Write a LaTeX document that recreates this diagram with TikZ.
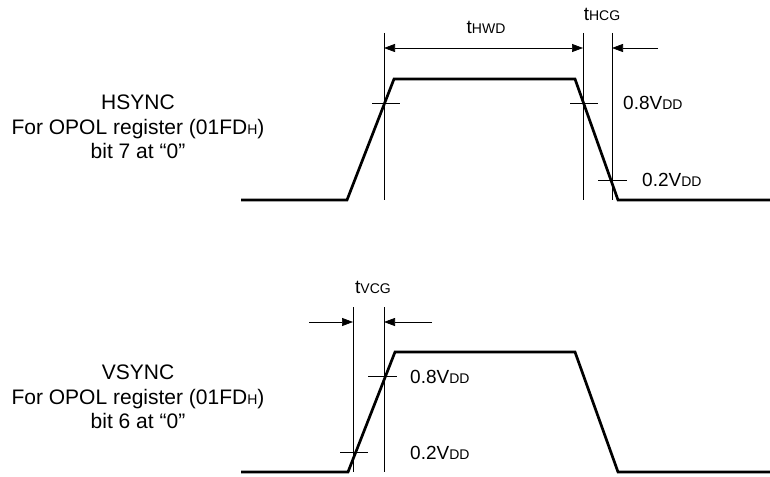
\documentclass[tikz,border=0pt]{standalone}
\usepackage{fontspec}
\setmainfont{Liberation Sans}
\usetikzlibrary{arrows.meta}

\newcommand{\subtxt}[1]{{\fontsize{14}{14}\selectfont #1}}

\tikzset{
    wave/.style={line width=2.7pt, line join=miter},
    guide/.style={line width=0.7pt},
    dim/.style={line width=0.7pt, >={Triangle[length=11pt,width=8pt]}},
    lbl/.style={font=\fontsize{19}{20}\selectfont, inner sep=0pt},
    sig/.style={font=\fontsize{21}{24.5}\selectfont, align=center, inner sep=0pt}
}

\begin{document}
\begin{tikzpicture}[x=1pt,y=-1pt]

            %\draw [help lines] (0,0) grid (770,476);
            \useasboundingbox (0,0) rectangle (770,476);

            % HSYNC
            \path   (241,200) coordinate (ha)
                    (347,200) coordinate (hb)
                    (394,79)  coordinate (hc)
                    (575,79)  coordinate (hd)
                    (618,200) coordinate (he)
                    (770,200) coordinate (hf)
                    (384,33)  coordinate (hg1)
                    (384,200) coordinate (hg1b)
                    (583,33)  coordinate (hg2)
                    (583,200) coordinate (hg2b)
                    (612,33)  coordinate (hg3)
                    (612,200) coordinate (hg3b)
                    (384,48)  coordinate (hwdl)
                    (583,48)  coordinate (hwdr)
                    (612,48)  coordinate (hcgl)
                    (658,48)  coordinate (hcgr)
                    (372,103) coordinate (hk1l)
                    (400,103) coordinate (hk1r)
                    (570,103) coordinate (hk2l)
                    (598,103) coordinate (hk2r)
                    (598,180) coordinate (hk3l)
                    (627,180) coordinate (hk3r);

            \path   (138,127) node (hname) [sig] {HSYNC\\For OPOL register (01FD\subtxt{H})\\bit 7 at “0”}
                    (486,27)  node (thwd) [lbl] {t\subtxt{HWD}}
                    (602,14)  node (thcg) [lbl] {t\subtxt{HCG}}
                    (623,103) node (h08) [lbl,anchor=west] {0.8V\subtxt{DD}}
                    (642,180) node (h02) [lbl,anchor=west] {0.2V\subtxt{DD}};

            \draw[wave] (ha) -- (hb) -- (hc) -- (hd) -- (he) -- (hf);
            \draw[guide] (hg1) -- (hg1b);
            \draw[guide] (hg2) -- (hg2b);
            \draw[guide] (hg3) -- (hg3b);
            \draw[dim,<->] (hwdl) -- (hwdr);
            \draw[dim,->] (hcgr) -- (hcgl);
            \draw[guide] (hk1l) -- (hk1r);
            \draw[guide] (hk2l) -- (hk2r);
            \draw[guide] (hk3l) -- (hk3r);

            % VSYNC
            \path   (241,472) coordinate (va)
                    (348,472) coordinate (vb)
                    (395,352) coordinate (vc)
                    (575,352) coordinate (vd)
                    (618,472) coordinate (ve)
                    (770,472) coordinate (vf)
                    (353,307) coordinate (vg1)
                    (353,472) coordinate (vg1b)
                    (384,307) coordinate (vg2)
                    (384,472) coordinate (vg2b)
                    (309,322) coordinate (vcgl)
                    (353,322) coordinate (vcgm)
                    (384,322) coordinate (vcgn)
                    (432,322) coordinate (vcgr)
                    (368,376) coordinate (vk1l)
                    (397,376) coordinate (vk1r)
                    (340,452) coordinate (vk2l)
                    (368,452) coordinate (vk2r);

            \path   (138,397) node (vname) [sig] {VSYNC\\For OPOL register (01FD\subtxt{H})\\bit 6 at “0”}
                    (373,287) node (tvcg) [lbl] {t\subtxt{VCG}}
                    (410,377) node (v08) [lbl,anchor=west] {0.8V\subtxt{DD}}
                    (410,453) node (v02) [lbl,anchor=west] {0.2V\subtxt{DD}};

            \draw[wave] (va) -- (vb) -- (vc) -- (vd) -- (ve) -- (vf);
            \draw[guide] (vg1) -- (vg1b);
            \draw[guide] (vg2) -- (vg2b);
            \draw[dim,->] (vcgl) -- (vcgm);
            \draw[dim,->] (vcgr) -- (vcgn);
            \draw[guide] (vk1l) -- (vk1r);
            \draw[guide] (vk2l) -- (vk2r);
\end{tikzpicture}
\end{document}
